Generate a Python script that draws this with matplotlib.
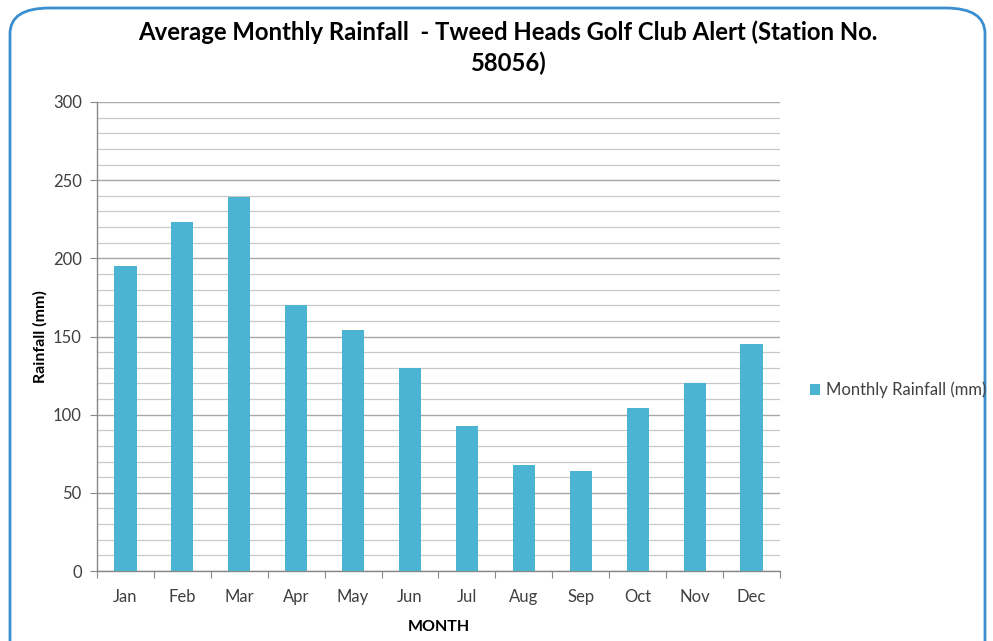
import matplotlib
matplotlib.use("Agg")
import matplotlib.pyplot as plt
from matplotlib.patches import FancyBboxPatch, Patch
from matplotlib.ticker import MultipleLocator, FixedLocator, NullFormatter

months = ["Jan", "Feb", "Mar", "Apr", "May", "Jun", "Jul", "Aug", "Sep", "Oct", "Nov", "Dec"]
rainfall = [195, 223, 239, 170, 154, 130, 93, 68, 64, 104, 120, 145]
series_name = "Monthly Rainfall (mm)"
title = "Average Monthly Rainfall  - Tweed Heads Golf Club Alert (Station No.\n58056)"

plt.rcParams['font.family'] = ['Lato', 'DejaVu Sans']
fig = plt.figure(figsize=(9.93, 6.41), dpi=100)

# rounded border
border = FancyBboxPatch((10/993, -0.05), (985-10)/993, 1 - 8/641 + 0.05,
                        boxstyle="round,pad=0,rounding_size=0.04",
                        transform=fig.transFigure, facecolor='none',
                        edgecolor='#3b8fd0', linewidth=2, zorder=-1)
fig.patches.append(border)

ax = fig.add_axes([97/993, 1 - 571/641, (780-97)/993, (571-102)/641])
ax.set_facecolor('none')
x = list(range(len(months)))
ax.bar(x, rainfall, width=0.39, color='#4bb4d2', zorder=3)

ax.set_ylim(0, 300)
ax.set_xlim(-0.5, len(months) - 0.5)
ax.yaxis.set_major_locator(MultipleLocator(50))
ax.yaxis.set_minor_locator(MultipleLocator(10))
ax.grid(axis='y', which='major', color='#a8a8a8', linewidth=1.0, zorder=0)
ax.grid(axis='y', which='minor', color='#c8c8c8', linewidth=0.9, zorder=0)

ax.xaxis.set_major_locator(FixedLocator([i - 0.5 for i in range(len(months) + 1)]))
ax.xaxis.set_major_formatter(NullFormatter())
ax.set_xticks(x, months, minor=True)
ax.tick_params(axis='x', which='major', length=5, color='#888888', direction='out')
ax.tick_params(axis='x', which='minor', length=0, labelsize=12, labelcolor='#404040', pad=13)
ax.tick_params(axis='y', which='major', length=5, color='#888888', labelsize=12, labelcolor='#404040', pad=6)
ax.tick_params(axis='y', which='minor', length=0)

for s in ['top', 'right']:
    ax.spines[s].set_visible(False)
for s in ['left', 'bottom']:
    ax.spines[s].set_color('#888888')
    ax.spines[s].set_linewidth(1.0)

ax.set_ylabel("Rainfall (mm)", fontsize=11.5, fontweight='bold', color='#000000', labelpad=4)
ax.set_xlabel("MONTH", fontsize=11.5, fontweight='bold', color='#000000', labelpad=11)

fig.text(508/993, 1 - 48/641, title, ha='center', va='center', fontsize=17.2,
         fontweight='bold', color='#000000', linespacing=1.38)

leg = fig.legend(handles=[Patch(facecolor='#4bb4d2', label=series_name)],
                 loc='center left', bbox_to_anchor=(803/993, 1 - 390/641),
                 frameon=False, fontsize=12, handlelength=0.6, handleheight=0.6,
                 handletextpad=0.35, borderaxespad=0)
for t in leg.get_texts():
    t.set_color('#404040')

fig.savefig("out.png", dpi=100)
